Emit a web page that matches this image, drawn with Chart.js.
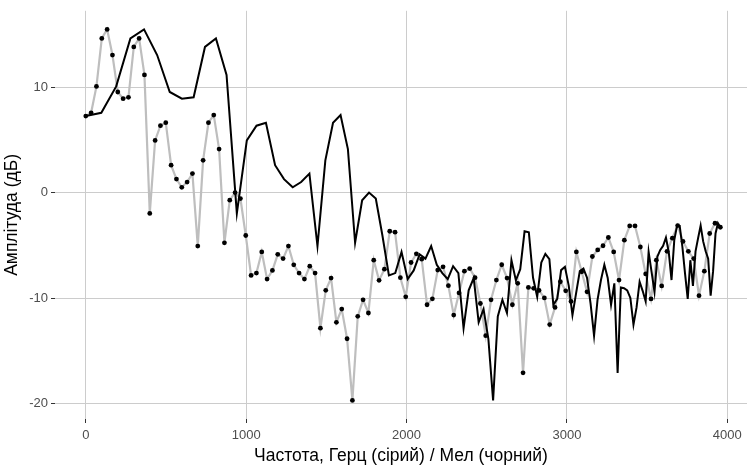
<!DOCTYPE html>
<html>
<head>
<meta charset="utf-8">
<script src="https://cdn.jsdelivr.net/npm/chart.js@4.4.1/dist/chart.umd.min.js"></script>
<style>
  html, body { margin: 0; padding: 0; background: #ffffff; }
  #wrap { width: 751px; height: 466px; }
</style>
</head>
<body>
<div id="wrap"><canvas id="c" width="751" height="466"></canvas></div>
<script>
// Spectrum amplitudes (dB), one per FFT bin starting at 0 Hz
const amplitudeDb = [
  7.25, 7.56, 10.06, 14.6, 15.46, 13.03, 9.53, 8.9, 9.03, 13.8,
  14.6, 11.15, -1.97, 4.94, 6.34, 6.62, 2.6, 1.28, 0.5, 1.0,
  1.8, -5.06, 3.06, 6.62, 7.34, 4.12, -4.75, -0.72, 0.0, -0.56,
  -4.06, -7.84, -7.62, -5.62, -8.19, -7.37, -5.84, -6.25, -5.06, -6.84,
  -7.62, -8.19, -6.97, -7.62, -12.84, -9.25, -8.09, -12.28, -11.03, -13.84,
  -19.68, -11.72, -10.15, -11.4, -6.4, -8.31, -7.25, -3.66, -3.75, -8.06,
  -9.87, -6.62, -5.8, -6.3, -10.62, -10.06, -7.34, -7.03, -8.81, -11.6,
  -9.5, -7.44, -7.19, -8.06, -10.5, -13.55, -10.15, -8.28, -6.83, -8.09,
  -10.62, -8.59, -17.07, -8.98, -9.06, -9.26, -9.97, -12.5, -10.87, -8.44,
  -9.3, -10.3, -5.62, -7.5, -9.4, -6.05, -5.43, -5.03, -4.25, -5.62,
  -8.28, -4.5, -3.15, -3.15, -5.15, -7.7, -10.07, -6.4, -8.84, -5.56,
  -4.31, -3.12, -4.62, -5.56, -6.25, -9.76, -7.44, -3.87, -2.9, -3.28
];

// FFT bin width in Hz
const binHz = 33.25;

// Axis ticks
const xTicks = [0, 1000, 2000, 3000, 4000];
const yTicks = [-20, -10, 0, 10];

// Axis titles
const xTitle = 'Частота, Герц (сірий) / Мел (чорний)';
const yTitle = 'Амплітуда (дБ)';

// Bin frequencies in Hz
const freqHz = amplitudeDb.map((_, i) => i * binHz);

// Mel scale, rescaled so that the top bin lands on the same x as in Hz
const mel = f => 2595 * Math.log10(1 + f / 700);
const fTop = freqHz[freqHz.length - 1];
const melX = freqHz.map(f => mel(f) * fTop / mel(fTop));

const hzPoints = freqHz.map((f, i) => ({ x: f, y: amplitudeDb[i] }));
const melPoints = melX.map((m, i) => ({ x: m, y: amplitudeDb[i] }));

const FONT = '"Liberation Sans", Arial, sans-serif';

const axisTitles = {
  id: 'axisTitles',
  afterDraw(chart) {
    const ctx = chart.ctx;
    const a = chart.chartArea;
    ctx.save();
    ctx.fillStyle = '#000000';
    ctx.font = '17.5px ' + FONT;
    ctx.textAlign = 'center';
    ctx.textBaseline = 'middle';
    ctx.fillText(xTitle, (a.left + a.right) / 2, a.bottom + 37);
    ctx.translate(12, (a.top + a.bottom) / 2);
    ctx.rotate(-Math.PI / 2);
    ctx.fillText(yTitle, 0, 0);
    ctx.restore();
  }
};

new Chart(document.getElementById('c'), {
  type: 'line',
  data: {
    datasets: [
      {
        label: 'Мел',
        data: melPoints,
        borderColor: '#000000',
        borderWidth: 2,
        pointRadius: 0,
        tension: 0,
        order: 0
      },
      {
        label: 'Герц',
        data: hzPoints,
        borderColor: '#BEBEBE',
        borderWidth: 2.2,
        pointRadius: 2.4,
        pointBackgroundColor: '#000000',
        pointBorderWidth: 0,
        tension: 0,
        order: 1
      }
    ]
  },
  options: {
    responsive: false,
    devicePixelRatio: 1,
    animation: false,
    layout: { padding: { top: 6, left: 0, right: 0, bottom: 0 } },
    plugins: { legend: { display: false }, tooltip: { enabled: false } },
    scales: {
      x: {
        type: 'linear',
        min: -192,
        max: 4123,
        afterBuildTicks: s => { s.ticks = xTicks.map(v => ({ value: v })); },
        afterFit: s => { s.height = 47; },
        grid: { color: '#CCCCCC', lineWidth: 1, tickLength: 4, tickColor: '#333333', drawTicks: true },
        border: { display: false },
        ticks: {
          color: '#4D4D4D', font: { family: FONT, size: 13 }, padding: 5, maxRotation: 0,
          callback: v => String(v)
        }
      },
      y: {
        type: 'linear',
        min: -21.44,
        max: 17.22,
        afterBuildTicks: s => { s.ticks = yTicks.map(v => ({ value: v })); },
        afterFit: s => { s.width = 55; },
        grid: { color: '#CCCCCC', lineWidth: 1, tickLength: 4, tickColor: '#333333', drawTicks: true },
        border: { display: false },
        ticks: {
          color: '#4D4D4D', font: { family: FONT, size: 13 }, padding: 3,
          callback: v => String(v)
        }
      }
    }
  },
  plugins: [axisTitles]
});
</script>
</body>
</html>
